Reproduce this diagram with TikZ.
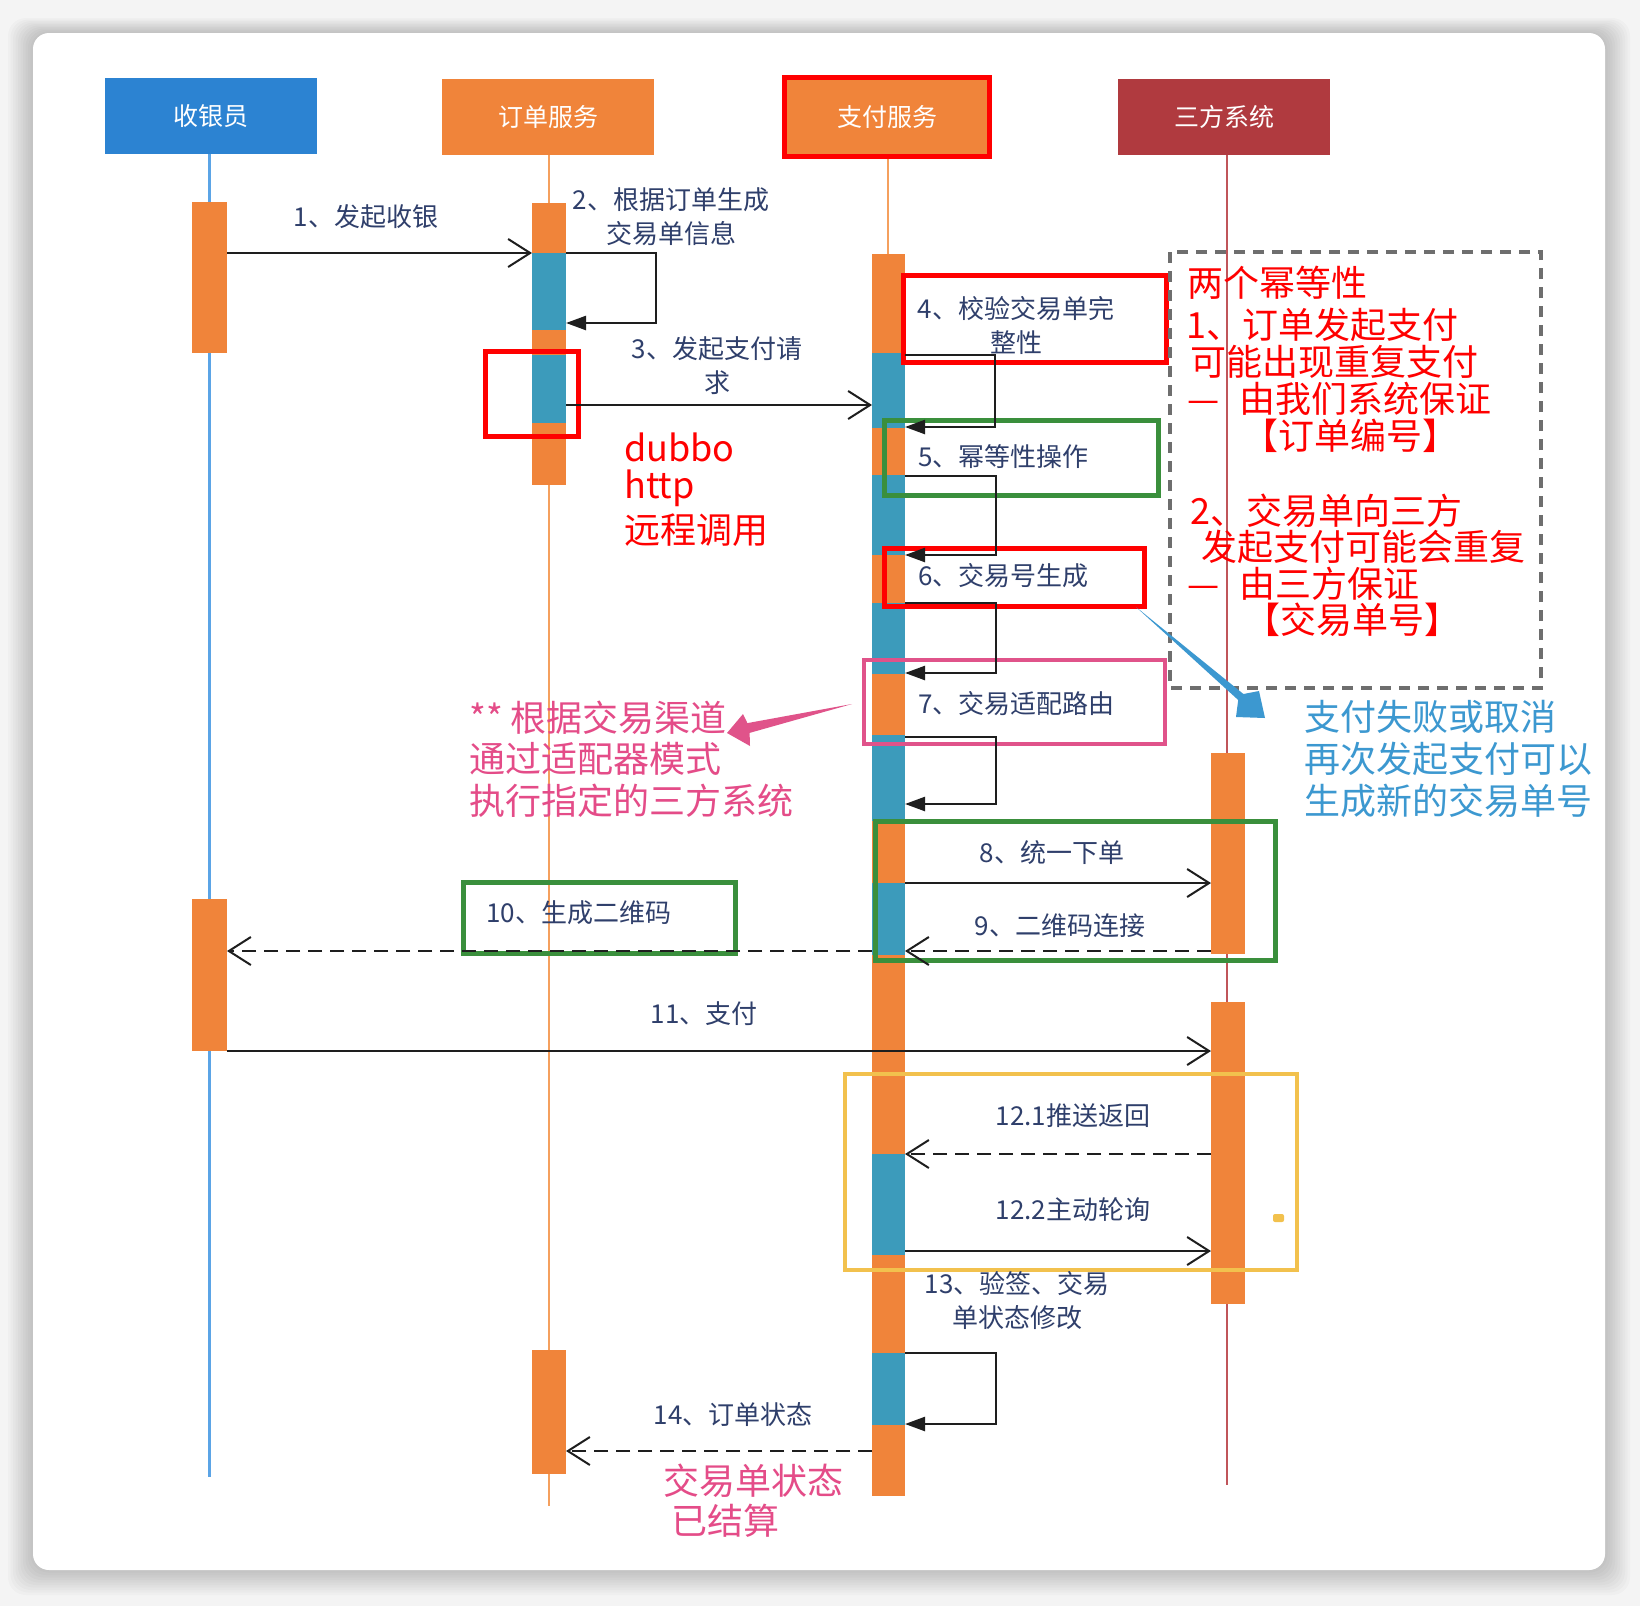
\documentclass[tikz,border=0pt]{standalone}
\usepackage{fontspec}
\setmainfont{Noto Sans CJK SC}
\usetikzlibrary{arrows.meta}
\definecolor{hdrblue}{HTML}{2C83D2}
\definecolor{ora}{HTML}{F0843A}
\definecolor{tealc}{HTML}{3C9BBB}
\definecolor{hdrred}{HTML}{B03A3F}
\definecolor{lblc}{HTML}{2F3F6B}
\definecolor{grn}{HTML}{3A8F3C}
\definecolor{pnk}{HTML}{E0538A}
\definecolor{pnktxt}{HTML}{E44C88}
\definecolor{yel}{HTML}{F2C14D}
\definecolor{bluetxt}{HTML}{3C98D0}
\definecolor{pureRed}{HTML}{FF0000}
\definecolor{lineblue}{HTML}{5BA4E6}
\definecolor{lineora}{HTML}{F5A05E}
\definecolor{linered}{HTML}{C0555A}
\definecolor{msgc}{HTML}{1E1E1E}
\definecolor{dashgray}{HTML}{6E6E6E}
\definecolor{pagebg}{HTML}{F4F4F4}
\begin{document}
\begin{tikzpicture}[x=1pt,y=-1pt,
  hdr/.style={rectangle, minimum width=212, minimum height=76, text=white, font=\fontsize{25}{30}\selectfont, inner sep=0},
  lbl/.style={text=lblc, font=\fontsize{26}{34}\selectfont, inner sep=0, align=center},
  ann/.style={font=\fontsize{36}{40}\selectfont, inner sep=0, anchor=west},
  msgline/.style={draw=msgc, line width=2.2pt, -{Straight Barb[length=22pt,width=28pt,line width=2pt]}},
  retline/.style={msgline, dash pattern=on 14pt off 8pt},
  selfline/.style={draw=msgc, line width=2.4pt, -{Triangle[length=20pt,width=14pt]}},
  redbox/.style={draw=pureRed, line width=5pt},
  grnbox/.style={draw=grn, line width=5pt},
]
\useasboundingbox (0,0) rectangle (1640,1606);
% page and card
\fill[pagebg] (0,0) rectangle (1640,1606);
\foreach \i in {1,...,10}
  \fill[black, opacity=0.018, rounded corners=18] (33-\i*2.5,33-\i*1.5) rectangle (1605+\i*2.5,1570+\i*2.5);
\fill[white, rounded corners=16] (33,33) rectangle (1605,1570);

% headers
\node[hdr, fill=hdrblue] (h1) at (211,116) {收银员};
\node[hdr, fill=ora] (h2) at (548,117) {订单服务};
\node[hdr, fill=ora, draw=pureRed, line width=5pt, minimum width=205, minimum height=79] (h3) at (887,117) {支付服务};
\node[hdr, fill=hdrred] (h4) at (1224,117) {三方系统};

% lifeline ends
\coordinate (e1) at (209,1477);
\coordinate (e2) at (549,1506);
\coordinate (e3) at (888,1494);
\coordinate (e4) at (1227,1485);
\draw[lineblue, line width=3pt] (h1.south -| e1) -- (e1);
\draw[lineora, line width=2pt] (h2.south -| e2) -- (e2);
\draw[lineora, line width=2pt] (h3.south -| e3) -- (e3);
\draw[linered, line width=2.5pt] (h4.south -| e4) -- (e4);

% activation bars
\fill[ora] (192,202) rectangle (227,353);
\fill[ora] (192,899) rectangle (227,1051);
\fill[ora] (532,203) rectangle (566,485);
\fill[tealc] (532,253) rectangle (566,330);
\fill[tealc] (532,355) rectangle (566,423);
\fill[ora] (532,1350) rectangle (566,1474);
\fill[ora] (872,254) rectangle (905,1496);
\foreach \a/\b in {353/428, 475/555, 603/674, 735/821, 883/955, 1154/1255, 1353/1425}
  \fill[tealc] (872,\a) rectangle (905,\b);
\fill[ora] (1211,753) rectangle (1245,954);
\fill[ora] (1211,1002) rectangle (1245,1304);

% highlight frames
\draw[redbox] (485,351) rectangle (578,436);
\draw[redbox] (903,275) rectangle (1166,362);
\draw[grnbox] (884,420) rectangle (1158,495);
\draw[redbox] (884,548) rectangle (1144,606);
\draw[draw=pnk, line width=4.5pt] (864,660) rectangle (1165,744);
\draw[grnbox] (875,821) rectangle (1275,960);
\draw[grnbox] (463,882) rectangle (735,953);
\draw[draw=yel, line width=4.5pt] (845,1074) rectangle (1297,1270);
\fill[yel, rounded corners=2] (1273,1214) rectangle (1284,1222);
\draw[dashgray, line width=4pt, dash pattern=on 11pt off 8pt] (1170,252) rectangle (1541,688);

% message end points
\coordinate (m1a) at (227,253);  \coordinate (m1b) at (532,253);
\coordinate (m3a) at (566,405);  \coordinate (m3b) at (872,405);
\coordinate (m8a) at (905,883);  \coordinate (m8b) at (1211,883);
\coordinate (m9a) at (1211,951); \coordinate (m9b) at (905,951);
\coordinate (m10a) at (872,951); \coordinate (m10b) at (227,951);
\coordinate (m11a) at (227,1051); \coordinate (m11b) at (1211,1051);
\coordinate (m121a) at (1211,1154); \coordinate (m121b) at (905,1154);
\coordinate (m122a) at (905,1251); \coordinate (m122b) at (1211,1251);
\coordinate (m14a) at (872,1451); \coordinate (m14b) at (566,1451);

\draw[msgline] (m1a) -- (m1b);
\draw[msgline] (m3a) -- (m3b);
\draw[msgline] (m8a) -- (m8b);
\draw[retline] (m9a) -- (m9b);
\draw[retline] (m10a) -- (m10b);
\draw[msgline] (m11a) -- (m11b);
\draw[retline] (m121a) -- (m121b);
\draw[msgline] (m122a) -- (m122b);
\draw[retline] (m14a) -- (m14b);

% self messages
\coordinate (s2a) at (566,253); \coordinate (s2b) at (566,323);
\draw[selfline] (s2a) -- (656,253) -- (656,323) -- (s2b);
\coordinate (s4a) at (905,355); \coordinate (s4b) at (905,427);
\draw[selfline] (s4a) -- (995,355) -- (995,427) -- (s4b);
\coordinate (s5a) at (905,476); \coordinate (s5b) at (905,555);
\draw[selfline] (s5a) -- (996,476) -- (996,555) -- (s5b);
\coordinate (s6a) at (905,603); \coordinate (s6b) at (905,673);
\draw[selfline] (s6a) -- (996,603) -- (996,673) -- (s6b);
\coordinate (s7a) at (905,737); \coordinate (s7b) at (905,804);
\draw[selfline] (s7a) -- (996,737) -- (996,804) -- (s7b);
\coordinate (s13a) at (905,1353); \coordinate (s13b) at (905,1424);
\draw[selfline] (s13a) -- (996,1353) -- (996,1424) -- (s13b);

% message labels
\node[lbl] (t1) at (366,217) {1、发起收银};
\node[lbl] (t2) at (671,217) {2、根据订单生成\\交易单信息};
\node[lbl] (t3) at (717,366) {3、发起支付请\\求};
\node[lbl] (t4) at (1016,325) {4、校验交易单完\\整性};
\node[lbl, anchor=west] (t5) at (918,457) {5、幂等性操作};
\node[lbl, anchor=west] (t6) at (918,576) {6、交易号生成};
\node[lbl, anchor=west] (t7) at (918,704) {7、交易适配路由};
\node[lbl] (t8) at (1052,853) {8、统一下单};
\node[lbl] (t9) at (1060,926) {9、二维码连接};
\node[lbl, anchor=west] (t10) at (486,913) {10、生成二维码};
\node[lbl] (t11) at (704,1014) {11、支付};
\node[lbl] (t121) at (1073,1116) {12.1推送返回};
\node[lbl] (t122) at (1073,1210) {12.2主动轮询};
\node[lbl] (t13) at (1017,1301) {13、验签、交易\\单状态修改};
\node[lbl] (t14) at (733,1415) {14、订单状态};

% annotations
\node[ann, text=pureRed] (d1) at (624,447) {dubbo};
\node[ann, text=pureRed] (d2) at (624,488) {http};
\node[ann, text=pureRed] (d3) at (624,530) {远程调用};

\node[ann, text=pureRed] (r1) at (1187,283) {两个幂等性};
\node[ann, text=pureRed] (r2) at (1186,325) {1、订单发起支付};
\node[ann, text=pureRed] (r3) at (1190,362) {可能出现重复支付};
\node[ann, text=pureRed] (r4) at (1187,399) {—\hspace{20pt}由我们系统保证};
\node[ann, text=pureRed] (r5) at (1242,436) {【订单编号】};
\node[ann, text=pureRed] (r6) at (1190,511) {2、交易单向三方};
\node[ann, text=pureRed] (r7) at (1201,547) {发起支付可能会重复};
\node[ann, text=pureRed] (r8) at (1187,584) {—\hspace{20pt}由三方保证};
\node[ann, text=pureRed] (r9) at (1244,620) {【交易单号】};

\node[ann, text=bluetxt] (b1) at (1304,717) {支付失败或取消};
\node[ann, text=bluetxt] (b2) at (1304,759) {再次发起支付可以};
\node[ann, text=bluetxt] (b3) at (1304,801) {生成新的交易单号};

\node[ann, text=pnktxt] (p1) at (469,718) {** 根据交易渠道};
\node[ann, text=pnktxt] (p2) at (469,759) {通过适配器模式};
\node[ann, text=pnktxt] (p3) at (469,801) {执行指定的三方系统};

\node[ann, text=pnktxt] (q1) at (663,1481) {交易单状态};
\node[ann, text=pnktxt] (q2) at (671,1521) {已结算};

% callout arrows
\fill[pnk] (852,704) -- (747.4,723.1) -- (743,714) -- (727,733) -- (750,746) -- (749.6,732.9) -- cycle;
\fill[bluetxt] (1136,607) -- (1243.4,694) -- (1259,691) -- (1265,718) -- (1236,717) -- (1238.2,700) -- cycle;
\end{tikzpicture}
\end{document}
